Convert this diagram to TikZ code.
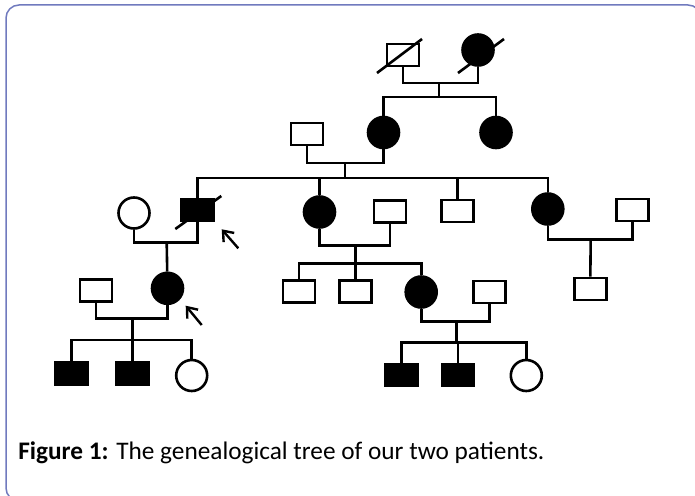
\documentclass[tikz,border=0pt]{standalone}
\usepackage{fontspec}
\newfontfamily\capfont{Carlito}
\usetikzlibrary{arrows.meta}
\definecolor{frameblue}{RGB}{112,122,190}
\tikzset{
  male/.style={draw, rectangle, minimum width=32pt, minimum height=22pt, inner sep=0pt},
  female/.style={draw, circle, minimum size=31pt, inner sep=0pt},
  aff/.style={fill=black},
  slash/.style={line width=2.6pt},
  pointer/.style={line width=2.4pt, -{Straight Barb[length=9pt, width=14pt]}}
}
\begin{document}
\begin{tikzpicture}[x=1pt, y=-1pt, line width=2.6pt]
\useasboundingbox (0,0) rectangle (695,495);
\clip (0,0) rectangle (695,495);
\draw[frameblue, line width=1.5pt, rounded corners=13pt] (6,5) rectangle (701,501);
\node[male] (0) at (403,55) {};
\node[female, aff] (1) at (478,50) {};
\node[female, aff] (2) at (383.5,132.5) {};
\node[female, aff] (3) at (496,132.5) {};
\node[male] (4) at (307,134) {};
\node[male, aff] (5) at (197.3,210) {};
\node[female, aff] (6) at (319.5,212) {};
\node[male] (7) at (457.2,211) {};
\node[female, aff] (8) at (547.8,209) {};
\node[female] (9) at (134,213) {};
\node[female, aff] (10) at (167.5,288.3) {};
\node[male] (11) at (390,211.5) {};
\node[male] (12) at (298.8,291.7) {};
\node[male] (13) at (355.2,291.7) {};
\node[female, aff] (14) at (421.2,292) {};
\node[male] (15) at (632.5,210) {};
\node[male] (16) at (590.2,289) {};
\node[male] (17) at (95.8,290.5) {};
\node[male, aff] (18) at (71.3,373.7) {};
\node[male, aff] (19) at (132.3,373.7) {};
\node[female] (20) at (191.7,375.5) {};
\node[male] (21) at (489.2,292) {};
\node[male, aff] (22) at (401.7,375) {};
\node[male, aff] (23) at (458,375) {};
\node[female] (24) at (526.3,375.5) {};
\coordinate (c0) at (439,83);
\coordinate (s0) at (439,97);
\coordinate (c1) at (345,163);
\coordinate (s1) at (345,178);
\coordinate (c2) at (166.7,242.5);
\coordinate (c3) at (355.7,245.7);
\coordinate (s3) at (355.7,263.3);
\coordinate (c4) at (590.7,239.3);
\coordinate (c5) at (132.3,318.3);
\coordinate (s5) at (132.3,340);
\coordinate (c6) at (456.7,321.7);
\coordinate (s6) at (456.7,342.3);
\coordinate (p0) at (238.3,248.3);
\coordinate (q0) at (221.7,229.3);
\coordinate (p1) at (201.7,325);
\coordinate (q1) at (185.7,305.7);
\draw (0) |- (c0) -| (1);
\draw (c0) -- (s0);
\draw (2) |- (s0) -| (3);
\draw (4) |- (c1) -| (2);
\draw (c1) -- (s1);
\draw (5) |- (s1) -| (8);
\draw (6) -- (6 |- s1);
\draw (7) -- (7 |- s1);
\draw (9) |- (c2) -| (5);
\draw (c2) -- (10);
\draw (6) |- (c3) -| (11);
\draw (c3) -- (s3);
\draw (12) |- (s3) -| (14);
\draw (13) -- (13 |- s3);
\draw (8) |- (c4) -| (15);
\draw (c4) -- (16);
\draw (17) |- (c5) -| (10);
\draw (c5) -- (s5);
\draw (18) |- (s5) -| (20);
\draw (19) -- (19 |- s5);
\draw (14) |- (c6) -| (21);
\draw (c6) -- (s6);
\draw (22) |- (s6) -| (24);
\draw (23) -- (23 |- s6);
\draw[slash] ([shift={(-26,18)}]0.center) -- ([shift={(19,-16)}]0.center);
\draw[slash] ([shift={(-20,23)}]1.center) -- ([shift={(26,-11)}]1.center);
\draw[slash] ([shift={(-22,19)}]5.center) -- ([shift={(24,-14)}]5.center);
\draw[pointer] (p0) -- (q0);
\draw[pointer] (p1) -- (q1);
\node[anchor=base west, inner sep=0pt, font=\capfont\fontsize{25.3}{30}\selectfont] (cap) at (17,459) {\textbf{Figure 1:} The genealogical tree of our two patients.};
\end{tikzpicture}
\end{document}
